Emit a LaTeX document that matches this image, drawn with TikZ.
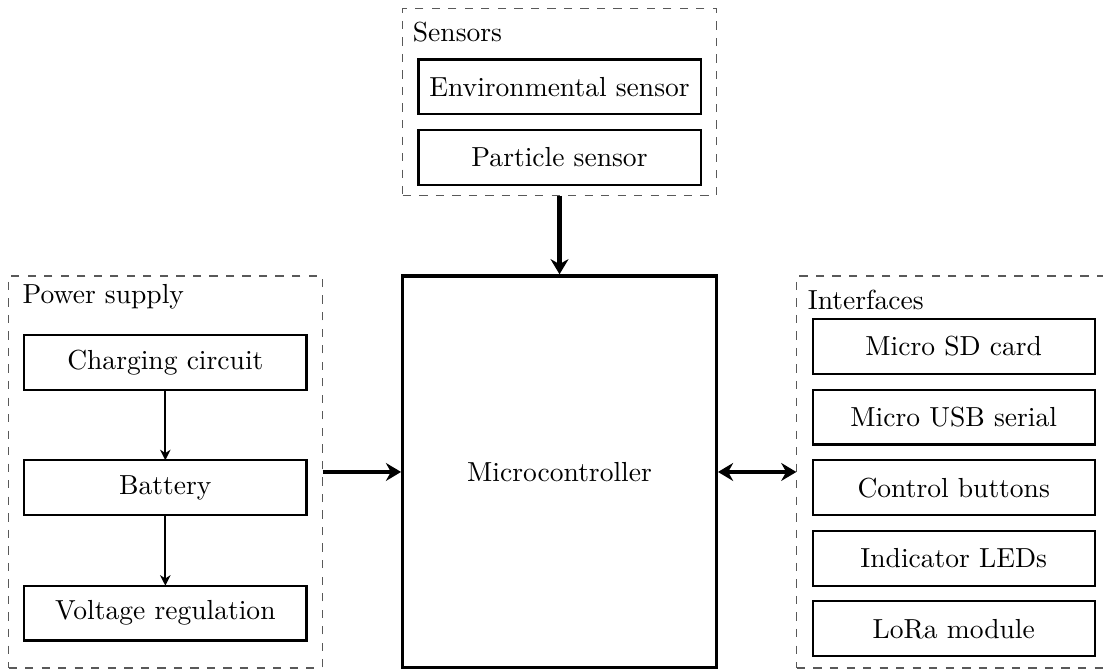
\documentclass[tikz,border=0pt]{standalone}
\usepackage{tikz}
\usetikzlibrary{arrows.meta,positioning}

\begin{document}
\begin{tikzpicture}[
    block/.style={draw,thick,minimum width=3.6cm,minimum height=0.7cm,inner sep=0pt,outer sep=0pt},
    group/.style={draw,black!65,dashed,minimum width=4cm,inner sep=0pt},
    grouplabel/.style={anchor=base west,inner sep=0pt},
    bus/.style={-{Stealth[length=5.5pt,width=6.5pt,inset=1.8pt]},line width=1.5pt},
    feed/.style={-{Stealth[length=3.8pt,width=3.8pt,inset=1.2pt]},thick}]
    \useasboundingbox (-7.137,-2.513) rectangle (6.932,6.020);
    % central unit
    \node[draw,very thick,minimum width=4cm,minimum height=5cm]
      (mcu) at (0,0) {Microcontroller};
    % sensors
    \node[group,minimum height=2.385cm,above=1cm of mcu] (sens) {};
    \node[grouplabel] (sensLbl) at ([shift={(0.13,-0.43)}]sens.north west) {Sensors};
    \node[block,above=0.14cm of sens.south] (particle) {Particle sensor};
    \node[block,above=0.2cm of particle] (envsens) {Environmental sensor};
    % power supply
    \node[group,minimum height=5cm,left=1cm of mcu] (power) {};
    \node[grouplabel] (powerLbl) at ([shift={(0.18,-0.36)}]power.north west) {Power supply};
    \node[block] (battery) at ([yshift=-0.2cm]power.center) {Battery};
    \node[block,above=0.9cm of battery] (charging) {Charging circuit};
    \node[block,below=0.9cm of battery] (regulator) {Voltage regulation};
    % interfaces
    \node[group,minimum height=5cm,right=1cm of mcu] (intf) {};
    \node[grouplabel] (intfLbl) at ([shift={(0.14,-0.43)}]intf.north west) {Interfaces};
    \node[block] (buttons) at ([yshift=-0.2cm]intf.center) {Control buttons};
    \node[block,above=0.2cm of buttons] (usb) {Micro USB serial};
    \node[block,above=0.2cm of usb] (sdcard) {Micro SD card};
    \node[block,below=0.2cm of buttons] (leds) {Indicator LEDs};
    \node[block,below=0.2cm of leds] (lora) {LoRa module};
    % connections
    \draw[bus] (sens) -- (mcu);
    \draw[bus] (power) -- (mcu);
    \draw[bus,{Stealth[length=5.5pt,width=6.5pt,inset=1.8pt]}-{Stealth[length=5.5pt,width=6.5pt,inset=1.8pt]}] (mcu) -- (intf);
    \draw[feed] (charging) -- (battery);
    \draw[feed] (battery) -- (regulator);
\end{tikzpicture}
\end{document}
